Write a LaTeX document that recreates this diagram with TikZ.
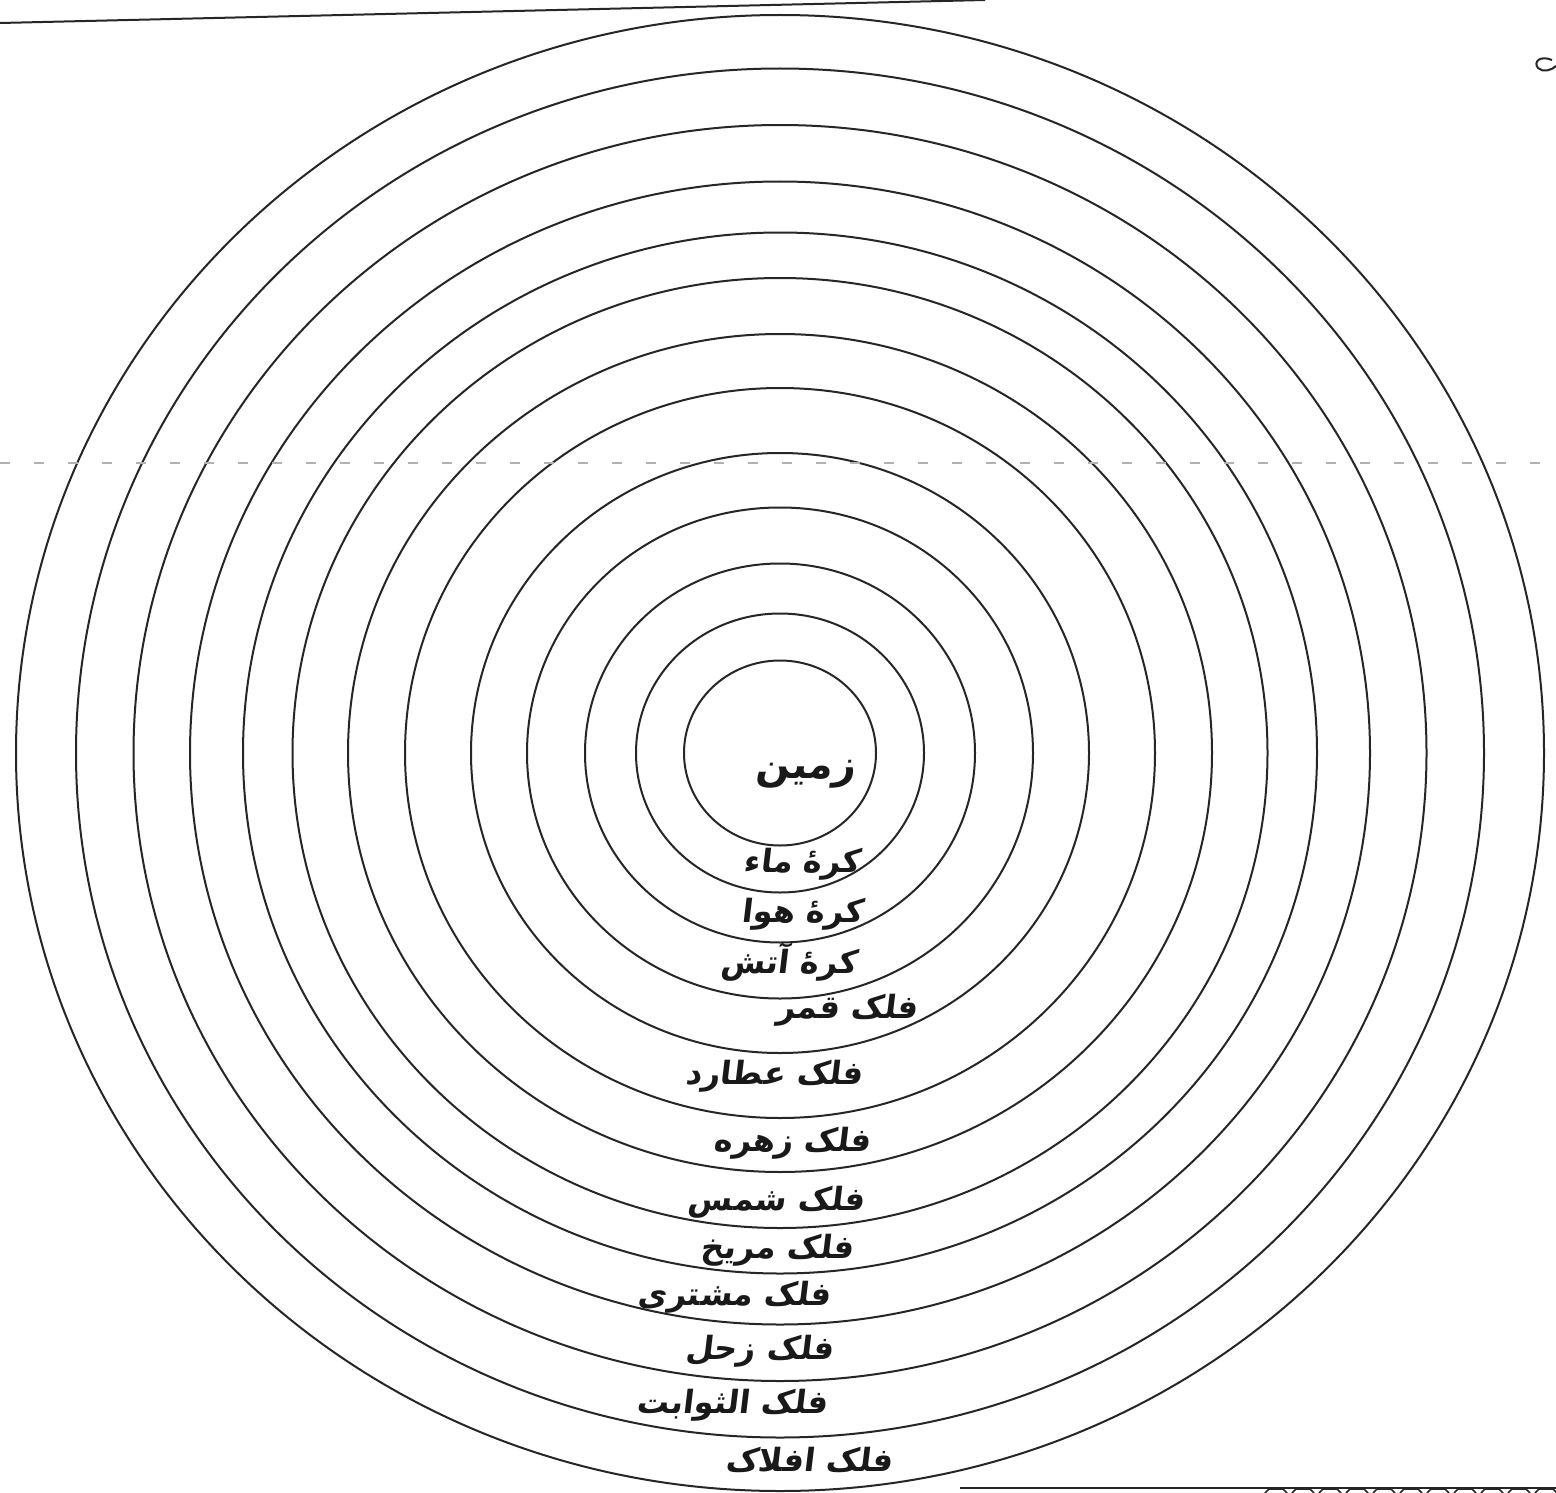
\documentclass[tikz,border=0pt]{standalone}
\usepackage{fontspec}
\newfontfamily\arabicfont[Script=Arabic]{DejaVu Sans}
\TeXXeTstate=1
\begin{document}
\begin{tikzpicture}[x=1pt,y=-1pt,
  ring/.style={draw=black!85, line width=2pt},
  lbl/.style={inner sep=0pt, xslant=0.12, font=\arabicfont\bfseries\fontsize{32}{36}\selectfont, text=black!90}]
\useasboundingbox (0,0) rectangle (1556,1493);
\fill[white] (0,0) rectangle (1556,1493);
\coordinate (c) at (780,753);
% concentric spheres
\foreach \rx/\ry in {96/92.5,144/139.5,195/189.5,253/245.5,309/300,375/365,432/419,487.5/475,537/520.5,590/571.5,646.5/628,704/684.5,764/738}
  \draw[ring] (c) ellipse [x radius=\rx, y radius=\ry];
% top rule
\coordinate (tl) at (0,23);
\coordinate (tr) at (985,0);
\draw[line width=2pt, black!85] (tl) -- (tr);
% dashed horizontal line
\coordinate (dl) at (0,463);
\coordinate (dr) at (1556,463);
\draw[gray!60, line width=1.2pt, dash pattern=on 10pt off 24pt] (dl) -- (dr);
% small mark top right
\draw[line width=2pt, black!85] (1552,60) .. controls (1540,55) and (1533,62) .. (1538,68) .. controls (1543,73) and (1552,70) .. (1556,66);
% bottom border
\coordinate (bl) at (960,1488);
\coordinate (br) at (1556,1488);
\draw[line width=2.4pt, black!85] (bl) -- (br);
\foreach \x in {1265,1292,...,1545}
  \draw[line width=1.6pt, black!85] (\x,1493) -- (\x+4,1489) -- (\x+18,1489) -- (\x+22,1493);
% labels
\node[lbl, font=\arabicfont\bfseries\fontsize{40}{44}\selectfont] (zamin) at (806,774) {\beginR زمین\endR};
\node[lbl] (maa) at (803,864) {\beginR کرهٔ ماء\endR};
\node[lbl] (hawa) at (803,914) {\beginR کرهٔ هوا\endR};
\node[lbl] (atish) at (790,962) {\beginR کرهٔ آتش\endR};
\node[lbl] (qamar) at (848,1010) {\beginR فلک قمر\endR};
\node[lbl] (utarid) at (775,1076) {\beginR فلک عطارد\endR};
\node[lbl] (zuhra) at (793,1143) {\beginR فلک زهره\endR};
\node[lbl] (shams) at (777,1202) {\beginR فلک شمس\endR};
\node[lbl] (mirrikh) at (778,1250) {\beginR فلک مریخ\endR};
\node[lbl] (mushtari) at (735,1297) {\beginR فلک مشتری\endR};
\node[lbl] (zuhal) at (760,1351) {\beginR فلک زحل\endR};
\node[lbl] (sawabit) at (733,1405) {\beginR فلک الثوابت\endR};
\node[lbl] (aflak) at (810,1460) {\beginR فلک افلاک\endR};
\end{tikzpicture}
\end{document}
